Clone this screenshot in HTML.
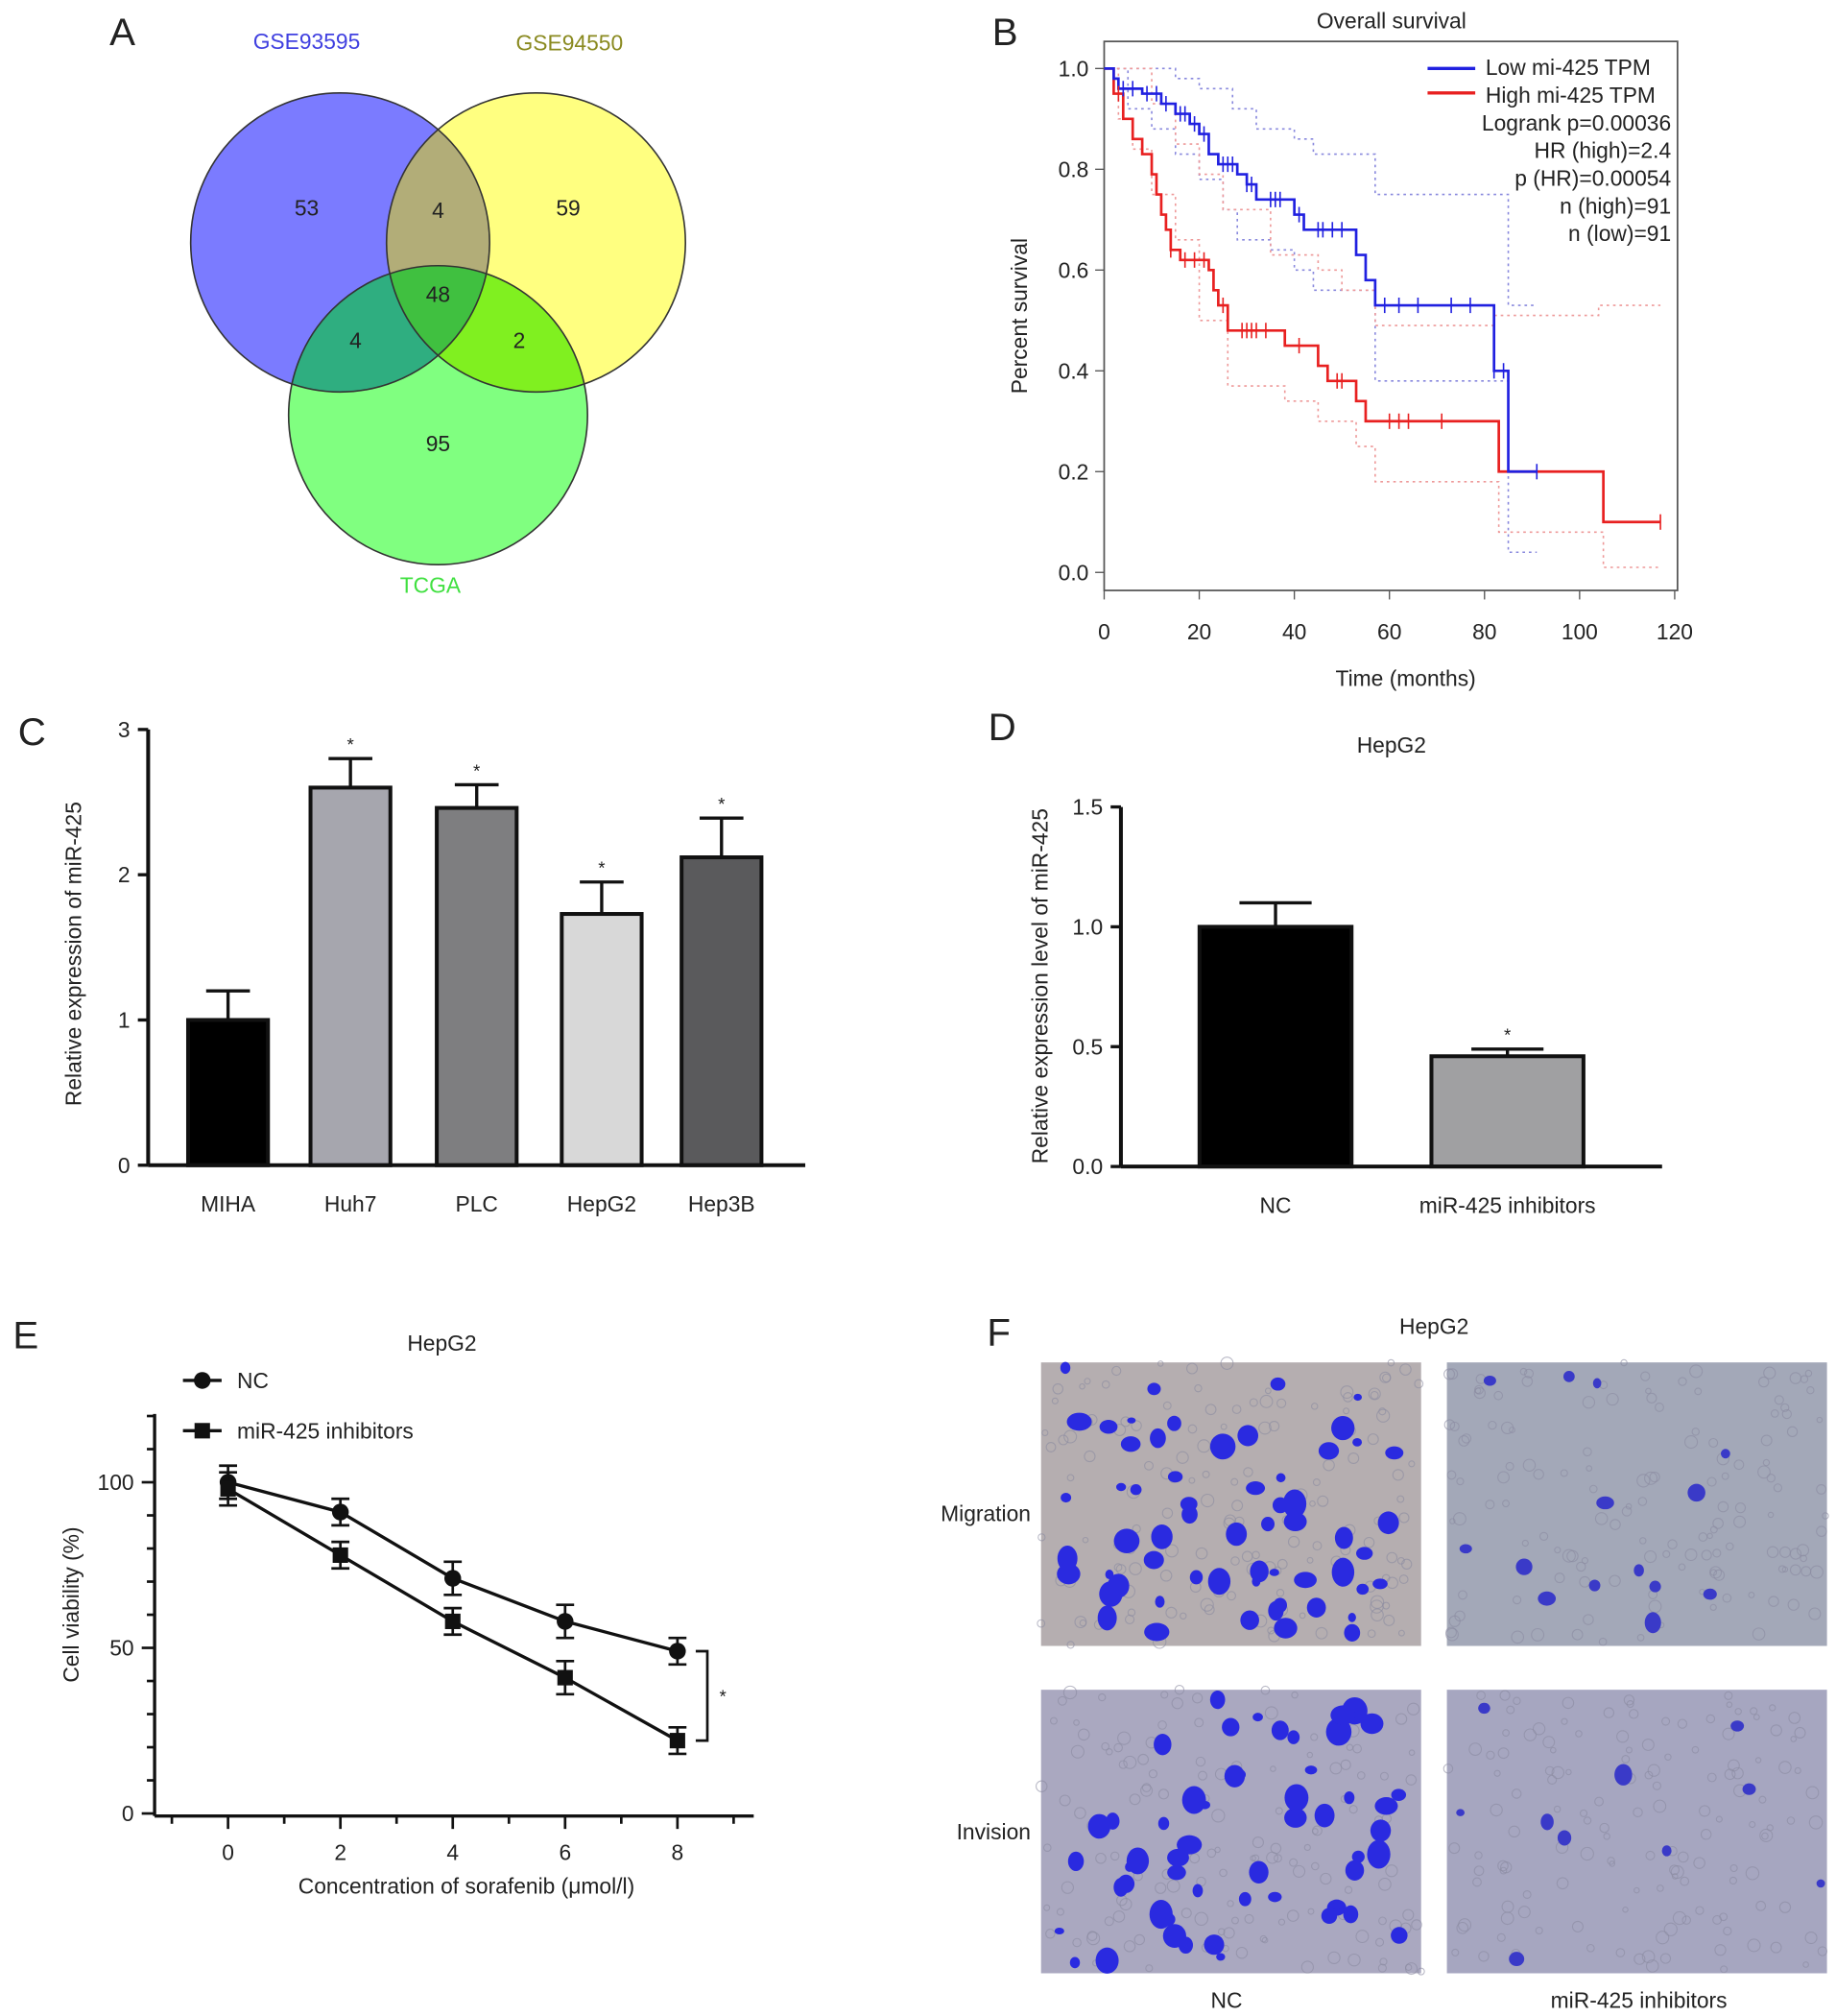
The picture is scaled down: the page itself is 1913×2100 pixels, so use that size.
<!DOCTYPE html>
<html><head><meta charset="utf-8"><style>
html,body{margin:0;padding:0;background:#fff}
svg{display:block}
text{font-family:"Liberation Sans",sans-serif;fill:#222}
</style></head><body>
<svg id="fig" width="1913" height="2100" viewBox="0 0 1425 1564" xmlns="http://www.w3.org/2000/svg">
<defs>
<clipPath id="cb"><circle cx="264" cy="188" r="116"/></clipPath>
<clipPath id="cy"><circle cx="416" cy="188" r="116"/></clipPath>
<clipPath id="cg"><circle cx="340" cy="322" r="116"/></clipPath>
</defs>
<g id="venn">
<text x="85" y="35" font-size="30">A</text>
<text x="238" y="38" font-size="17" text-anchor="middle" style="fill:#4040e0">GSE93595</text>
<text x="442" y="39" font-size="17" text-anchor="middle" style="fill:#8a8a20">GSE94550</text>
<text x="334" y="460" font-size="17" text-anchor="middle" style="fill:#40e040">TCGA</text>
<circle cx="264" cy="188" r="116" fill="#7b7bff"/>
<circle cx="416" cy="188" r="116" fill="#ffff80"/>
<circle cx="340" cy="322" r="116" fill="#80ff80"/>
<g clip-path="url(#cb)"><circle cx="416" cy="188" r="116" fill="#b2ad78"/><circle cx="340" cy="322" r="116" fill="#2fae80"/></g>
<g clip-path="url(#cy)"><circle cx="340" cy="322" r="116" fill="#80f020"/></g>
<g clip-path="url(#cb)"><g clip-path="url(#cy)"><circle cx="340" cy="322" r="116" fill="#40c040"/></g></g>
<g fill="none" stroke="#333" stroke-width="1.2"><circle cx="264" cy="188" r="116"/><circle cx="416" cy="188" r="116"/><circle cx="340" cy="322" r="116"/></g>
<g font-size="17" text-anchor="middle">
<text x="238" y="167">53</text><text x="340" y="169">4</text><text x="441" y="167">59</text>
<text x="340" y="234">48</text><text x="276" y="270">4</text><text x="403" y="270">2</text><text x="340" y="350">95</text>
</g></g>
<g id="km"></g>
<g id="pc"></g>
<g id="pd"></g>
<g id="pe"></g>
<g id="pf"></g>
</svg>
<script>
// ---- Panel B data
const blueT=[0,2,3,8,12,15,18,20,22,24,28,30,32,40,42,53,55,57,82,85,91];
const blueS=[1,0.98,0.96,0.95,0.93,0.91,0.89,0.87,0.83,0.81,0.79,0.77,0.74,0.71,0.68,0.63,0.58,0.53,0.40,0.20,0.20];
const redT=[0,2,4,6,8,10,11,12,13,14,16,22,23,24,26,38,45,47,53,55,83,105,117];
const redS=[1,0.95,0.90,0.86,0.83,0.79,0.75,0.71,0.68,0.64,0.62,0.60,0.56,0.53,0.48,0.45,0.41,0.38,0.34,0.30,0.20,0.10,0.10];
const blueUpT=[0,8,15,20,27,32,40,44,50,57,82,85,91];
const blueUpS=[1,1,0.98,0.96,0.92,0.88,0.86,0.83,0.83,0.75,0.75,0.53,0.53];
const blueLoT=[0,5,10,15,20,25,28,35,40,44,57,82,85,91];
const blueLoS=[1,0.92,0.88,0.83,0.78,0.72,0.66,0.64,0.60,0.56,0.38,0.38,0.04,0.04];
const redUpT=[0,5,10,15,20,25,35,45,50,57,82,104,117];
const redUpS=[1,1,0.93,0.85,0.79,0.72,0.63,0.60,0.56,0.49,0.51,0.53,0.53];
const redLoT=[0,3,6,10,15,20,26,38,45,53,57,83,105,117];
const redLoS=[1,0.90,0.84,0.75,0.66,0.50,0.37,0.34,0.30,0.25,0.18,0.08,0.01,0.01];
const blueCensor=[4,6,9,11,13,16,17,19,21,25,26,27,30,31,35,36,37,41,45,46,48,50,59,62,66,73,77,82,84,91];
const redCensor=[3,14,17,19,21,25,29,30,31,32,34,41,49,50,60,62,64,71,117];
const bXt=[0,20,40,60,80,100,120];const bYt=[0,0.2,0.4,0.6,0.8,1.0];
// ---- Panel C
const cCats=['MIHA','Huh7','PLC','HepG2','Hep3B'];
const cVals=[1.0,2.6,2.46,1.73,2.12];
const cErr=[0.2,0.2,0.16,0.22,0.27];
const cStar=[false,true,true,true,true];
const cYt=[0,1,2,3];
// ---- Panel D
const dCats=['NC','miR-425 inhibitors'];
const dVals=[1.0,0.46];const dErr=[0.1,0.03];
const dYt=[0,0.5,1.0,1.5];
// ---- Panel E
const eX=[0,2,4,6,8];
const eNC=[100,91,71,58,49];const eNCerr=[5,4,5,5,4];
const eInh=[98,78,58,41,22];const eInhErr=[5,4,4,5,4];
const eYt=[0,50,100];const eXt=[0,2,4,6,8];

const NS='http://www.w3.org/2000/svg';
function mk(p,tag,at,txt){const e=document.createElementNS(NS,tag);for(const k in at)e.setAttribute(k,at[k]);if(txt!=null)e.textContent=txt;p.appendChild(e);return e;}

// ===== Panel B
(function(){
const g=document.getElementById('km');
const X=t=>857+t*3.69, Y=s=>444-s*391;
let e=mk(g,'text',{x:770,y:35,'font-size':30},'B');
e=mk(g,'text',{x:1080,y:22,'font-size':17,'text-anchor':'middle'},'Overall survival');
e=mk(g,'rect',{x:857,y:32,width:445,height:426,fill:'none',stroke:'#555','stroke-width':1.3});
bYt.forEach(v=>{mk(g,'line',{x1:850,x2:857,y1:Y(v),y2:Y(v),stroke:'#555'});e=mk(g,'text',{x:845,y:Y(v)+6,'font-size':17,'text-anchor':'end'},v.toFixed(1));});
bXt.forEach(v=>{mk(g,'line',{x1:X(v),x2:X(v),y1:458,y2:465,stroke:'#555'});e=mk(g,'text',{x:X(v),y:496,'font-size':17,'text-anchor':'middle'},v);});
e=mk(g,'text',{x:1091,y:532,'font-size':17,'text-anchor':'middle'},'Time (months)');
e=mk(g,'text',{x:0,y:0,'font-size':17,'text-anchor':'middle',transform:'translate(797,245) rotate(-90)'},'Percent survival');
function step(T,S){let d='M'+X(T[0])+','+Y(S[0]);for(let i=1;i<T.length;i++){d+='H'+X(T[i])+'V'+Y(S[i]);}return d;}
function sv(T,S,t){let s=S[0];for(let i=0;i<T.length;i++)if(T[i]<=t)s=S[i];return s;}
[[blueUpT,blueUpS,'#8888dd','ci-low-upper'],[blueLoT,blueLoS,'#8888dd','ci-low-lower'],[redUpT,redUpS,'#ee9999','ci-high-upper'],[redLoT,redLoS,'#ee9999','ci-high-lower']].forEach(a=>{
e=mk(g,'path',{d:step(a[0],a[1]),fill:'none',stroke:a[2],'stroke-width':1.2,'stroke-dasharray':'2,3'});});
e=mk(g,'path',{d:step(redT,redS),fill:'none',stroke:'#e82020','stroke-width':2});
e=mk(g,'path',{d:step(blueT,blueS),fill:'none',stroke:'#2020e0','stroke-width':2});
blueCensor.forEach(t=>{const y=Y(sv(blueT,blueS,t));mk(g,'line',{x1:X(t),x2:X(t),y1:y-6,y2:y+6,stroke:'#2020e0','stroke-width':1.2});});
redCensor.forEach(t=>{const y=Y(sv(redT,redS,t));mk(g,'line',{x1:X(t),x2:X(t),y1:y-6,y2:y+6,stroke:'#e82020','stroke-width':1.2});});
mk(g,'line',{x1:1108,x2:1145,y1:53,y2:53,stroke:'#2020e0','stroke-width':2.5});
mk(g,'line',{x1:1108,x2:1145,y1:72,y2:72,stroke:'#e82020','stroke-width':2.5});
const leg=['Low mi-425 TPM','High mi-425 TPM','Logrank p=0.00036','HR  (high)=2.4','p (HR)=0.00054','n (high)=91','n (low)=91'];
leg.forEach((s,i)=>{e=mk(g,'text',{x:i<2?1153:1297,y:58+i*21.5,'font-size':17,'text-anchor':i<2?'start':'end'},s);});
})();

function barChart(id,o){
const g=document.getElementById(id);let e;
const Y=v=>o.y0-v*o.k;
e=mk(g,'text',{x:o.lx,y:o.ly,'font-size':30},o.label);
if(o.title){e=mk(g,'text',{x:o.tx,y:o.ty,'font-size':17,'text-anchor':'middle'},o.title);}
o.vals.forEach((v,i)=>{const cx=o.cx[i];
e=mk(g,'line',{x1:cx,x2:cx,y1:Y(v),y2:Y(v+o.err[i]),stroke:'#111','stroke-width':2.5});
e=mk(g,'line',{x1:cx-o.cap,x2:cx+o.cap,y1:Y(v+o.err[i]),y2:Y(v+o.err[i]),stroke:'#111','stroke-width':2.5});
e=mk(g,'rect',{x:cx-o.w/2,y:Y(v),width:o.w,height:o.y0-Y(v),fill:o.col[i],stroke:'#111','stroke-width':3});
if(o.star[i]){e=mk(g,'text',{x:cx,y:Y(v+o.err[i])-6,'font-size':14,'text-anchor':'middle'},'*');}
e=mk(g,'text',{x:cx,y:o.y0+36,'font-size':17,'text-anchor':'middle'},o.cats[i]);});
e=mk(g,'line',{x1:o.ax,x2:o.ax,y1:Y(o.yt[o.yt.length-1]),y2:o.y0,stroke:'#111','stroke-width':3});
e=mk(g,'line',{x1:o.ax,x2:o.axEnd,y1:o.y0,y2:o.y0,stroke:'#111','stroke-width':3});
o.yt.forEach(v=>{mk(g,'line',{x1:o.ax-8,x2:o.ax,y1:Y(v),y2:Y(v),stroke:'#111','stroke-width':2.5});e=mk(g,'text',{x:o.ax-14,y:Y(v)+6,'font-size':17,'text-anchor':'end'},o.fmt(v));});
e=mk(g,'text',{x:0,y:0,'font-size':17,'text-anchor':'middle',transform:'translate('+o.yx+','+o.yy+') rotate(-90)'},o.ytitle);
}
barChart('pc',{label:'C',lx:14,ly:578,cats:cCats,vals:cVals,err:cErr,star:cStar,yt:cYt,y0:904,k:112.7,cx:[177,272,370,467,560],w:62,cap:17,col:['#000','#a6a6ae','#7e7e80','#d8d8d8','#5a5a5c'],ax:115,axEnd:625,fmt:v=>v,yx:63,yy:740,ytitle:'Relative expression of miR-425'});
barChart('pd',{label:'D',lx:767,ly:574,title:'HepG2',tx:1080,ty:584,cats:dCats,vals:dVals,err:dErr,star:[false,true],yt:dYt,y0:905,k:186,cx:[990,1170],w:118,cap:28,col:['#000','#a0a0a2'],ax:870,axEnd:1290,fmt:v=>v.toFixed(1),yx:813,yy:765,ytitle:'Relative expression level of miR-425'});

// ===== Panel E
(function(){
const g=document.getElementById('pe');let e;
const X=v=>177+v*43.6, Y=v=>1407-v*2.57;
e=mk(g,'text',{x:10,y:1046,'font-size':30},'E');
e=mk(g,'text',{x:343,y:1048,'font-size':17,'text-anchor':'middle'},'HepG2');
e=mk(g,'line',{x1:120,x2:120,y1:1097,y2:1409,stroke:'#111','stroke-width':2.5});
e=mk(g,'line',{x1:120,x2:585,y1:1409,y2:1409,stroke:'#111','stroke-width':2.5});
for(let v=0;v<=120;v+=10){mk(g,'line',{x1:v%50==0?110:114,x2:120,y1:Y(v),y2:Y(v),stroke:'#111','stroke-width':2});}
eYt.forEach(v=>{e=mk(g,'text',{x:104,y:Y(v)+6,'font-size':17,'text-anchor':'end'},v);});
for(let v=-1;v<=9;v++){mk(g,'line',{x1:X(v),x2:X(v),y1:1409,y2:v%2==0?1419:1415,stroke:'#111','stroke-width':2});}
eXt.forEach(v=>{e=mk(g,'text',{x:X(v),y:1443,'font-size':17,'text-anchor':'middle'},v);});
e=mk(g,'text',{x:362,y:1469,'font-size':17,'text-anchor':'middle'},'Concentration of sorafenib (μmol/l)');
e=mk(g,'text',{x:0,y:0,'font-size':17,'text-anchor':'middle',transform:'translate(61,1245) rotate(-90)'},'Cell viability (%)');
function series(vals,err,sq,name){
e=mk(g,'polyline',{points:eX.map((x,i)=>X(x)+','+Y(vals[i])).join(' '),fill:'none',stroke:'#111','stroke-width':2.5});
eX.forEach((x,i)=>{const cx=X(x),cy=Y(vals[i]);
mk(g,'line',{x1:cx,x2:cx,y1:Y(vals[i]+err[i]),y2:Y(vals[i]-err[i]),stroke:'#111','stroke-width':2});
mk(g,'line',{x1:cx-7,x2:cx+7,y1:Y(vals[i]+err[i]),y2:Y(vals[i]+err[i]),stroke:'#111','stroke-width':2});
mk(g,'line',{x1:cx-7,x2:cx+7,y1:Y(vals[i]-err[i]),y2:Y(vals[i]-err[i]),stroke:'#111','stroke-width':2});
e=sq?mk(g,'rect',{x:cx-6,y:cy-6,width:12,height:12,fill:'#111'}):mk(g,'circle',{cx:cx,cy:cy,r:6.5,fill:'#111'});
});}
series(eNC,eNCerr,false,'nc');series(eInh,eInhErr,true,'inhibitors');
mk(g,'line',{x1:142,x2:172,y1:1071,y2:1071,stroke:'#111','stroke-width':2.5});mk(g,'circle',{cx:157,cy:1071,r:6.5,fill:'#111'});
mk(g,'line',{x1:142,x2:172,y1:1110,y2:1110,stroke:'#111','stroke-width':2.5});mk(g,'rect',{x:151,y:1104,width:12,height:12,fill:'#111'});
e=mk(g,'text',{x:184,y:1077,'font-size':17},'NC');
e=mk(g,'text',{x:184,y:1116,'font-size':17},'miR-425 inhibitors');
const yA=Y(eNC[4]),yB=Y(eInh[4]);
e=mk(g,'path',{d:'M540,'+yA+'H549V'+yB+'H540',fill:'none',stroke:'#111','stroke-width':2});
mk(g,'text',{x:561,y:(yA+yB)/2+5,'font-size':14,'text-anchor':'middle'},'*');
})();

// ===== Panel F (micrograph imitation)
(function(){
const g=document.getElementById('pf');let e;
e=mk(g,'text',{x:766,y:1044,'font-size':30},'F');
mk(g,'text',{x:1113,y:1035,'font-size':17,'text-anchor':'middle'},'HepG2');
mk(g,'text',{x:800,y:1180,'font-size':17,'text-anchor':'end'},'Migration');
mk(g,'text',{x:800,y:1427,'font-size':17,'text-anchor':'end'},'Invision');
mk(g,'text',{x:952,y:1558,'font-size':17,'text-anchor':'middle'},'NC');
mk(g,'text',{x:1272,y:1558,'font-size':17,'text-anchor':'middle'},'miR-425 inhibitors');
let seed=7;const rnd=()=>{seed=(seed*16807)%2147483647;return seed/2147483647;};
const panes=[[808,1057,'#b5aeb0',60,'nc-migration-image'],[1123,1057,'#a3a8b8',14,'inhibitor-migration-image'],[808,1311,'#aaa8c0',55,'nc-invasion-image'],[1123,1311,'#a6a6c0',10,'inhibitor-invasion-image']];
panes.forEach(p=>{const[x,y,c,n,nm]=p;
e=mk(g,'rect',{x:x,y:y,width:295,height:220,fill:c});
for(let i=0;i<140;i++)mk(g,'circle',{cx:x+rnd()*295,cy:y+rnd()*220,r:2+rnd()*3,fill:'none',stroke:'#8a8aa0','stroke-width':0.8,opacity:0.6});
for(let i=0;i<n;i++){const r=3+rnd()*(n>30?7:4);mk(g,'ellipse',{cx:x+r+rnd()*(295-2*r),cy:y+r+rnd()*(220-2*r),rx:r,ry:r*(0.7+rnd()*0.6),fill:n>30?'#2a2ae0':'#3a3ac8'});}
});
})();
</script>
</body></html>
